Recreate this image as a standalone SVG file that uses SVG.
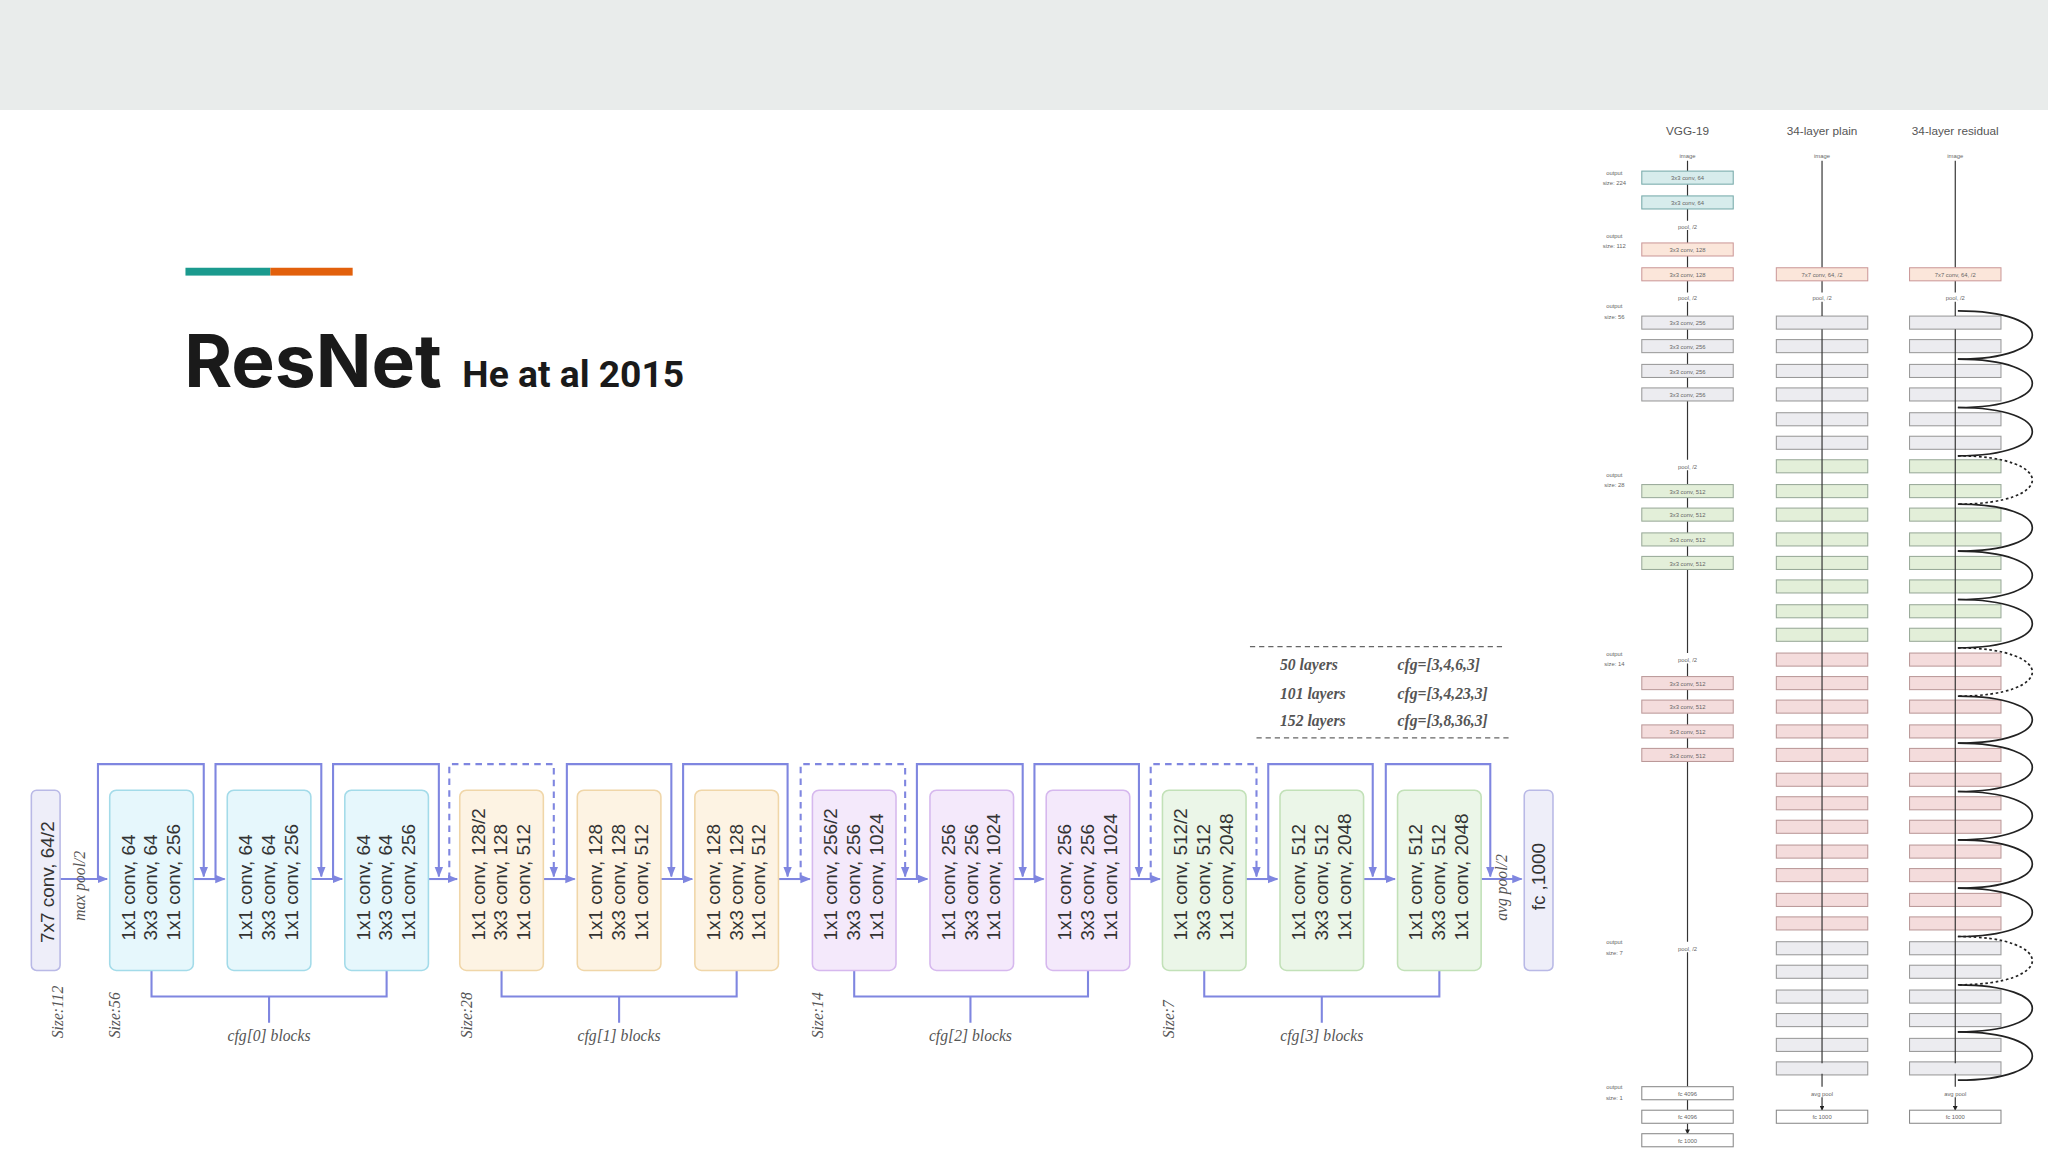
<svg xmlns="http://www.w3.org/2000/svg" width="2048" height="1152" viewBox="0 0 2048 1152">
<defs>
<style>
.c{fill:none;stroke:#7f86e0;stroke-width:1.6}
.d{fill:none;stroke:#7f86e0;stroke-width:1.6;stroke-dasharray:5 4}
.bt{font-family:"Liberation Sans",Arial,sans-serif;font-size:14.5px;fill:#333}
.it{font-family:"Liberation Serif",serif;font-style:italic;font-size:12px;fill:#555}
.sm{font-family:"Liberation Sans",Arial,sans-serif;font-size:4.5px;fill:#666;text-anchor:middle}
.hd{font-family:"Liberation Sans",Arial,sans-serif;font-size:9px;fill:#555;text-anchor:middle}
.bl{fill:#e6f7fc;stroke:#a3dbe9;stroke-width:1.2}
.or{fill:#fdf3e3;stroke:#f0d6a8;stroke-width:1.2}
.pu{fill:#f4e9fb;stroke:#d6b8ee;stroke-width:1.2}
.gr{fill:#ebf6e8;stroke:#c2e1b8;stroke-width:1.2}
.gy{fill:#ececf0;stroke:#999;stroke-width:0.8}
.te{fill:#d7ecec;stroke:#7aa;stroke-width:0.8}
.on{fill:#fbe6da;stroke:#c99;stroke-width:0.8}
.ge{fill:#e3efd9;stroke:#9a9;stroke-width:0.8}
.pk{fill:#f4dcdc;stroke:#b99;stroke-width:0.8}
.wh{fill:#fff;stroke:#888;stroke-width:0.8}
.ar{stroke:#333;stroke-width:0.9;fill:none}
</style>
<marker id="a" viewBox="0 0 10 10" refX="9" refY="5" markerWidth="5" markerHeight="5" orient="auto"><path d="M0,1 L10,5 L0,9 z" fill="#7f86e0"/></marker>
<marker id="k" viewBox="0 0 10 10" refX="9" refY="5" markerWidth="4" markerHeight="4" orient="auto"><path d="M0,0 L10,5 L0,10 z" fill="#222"/></marker>
</defs>
<rect width="2048" height="1152" fill="#fff"/>
<rect width="2048" height="110" fill="#e9eceb"/>
<g transform="scale(1.306122)">
<g id="title">
<rect x="142" y="205" width="65" height="6" fill="#1b9a8e"/>
<rect x="207" y="205" width="63" height="6" fill="#e2600c"/>
<text x="141" y="296" font-family="Inter,'Liberation Sans',sans-serif" font-weight="700" font-size="56" fill="#1a1a1a">ResNet</text>
<text x="354" y="296" font-family="Roboto,'Liberation Sans',sans-serif" font-weight="700" font-size="28.5" fill="#1a1a1a">He at al 2015</text>
</g>
<g id="connectors">
<path class="c" d="M46,673 H82" marker-end="url(#a)"/>
<path class="c" d="M148,673 H172" marker-end="url(#a)"/>
<path class="c" d="M238,673 H262" marker-end="url(#a)"/>
<path class="c" d="M328,673 H350" marker-end="url(#a)"/>
<path class="c" d="M416,673 H440" marker-end="url(#a)"/>
<path class="c" d="M506,673 H530" marker-end="url(#a)"/>
<path class="c" d="M596,673 H620" marker-end="url(#a)"/>
<path class="c" d="M686,673 H710" marker-end="url(#a)"/>
<path class="c" d="M776,673 H799" marker-end="url(#a)"/>
<path class="c" d="M865,673 H888" marker-end="url(#a)"/>
<path class="c" d="M954,673 H978" marker-end="url(#a)"/>
<path class="c" d="M1044,673 H1068" marker-end="url(#a)"/>
<path class="c" d="M1134,673 H1165" marker-end="url(#a)"/>
<path class="c" d="M75,673 V585 H156 V671" marker-end="url(#a)"/>
<path class="c" d="M165,673 V585 H246 V671" marker-end="url(#a)"/>
<path class="c" d="M255,673 V585 H336 V671" marker-end="url(#a)"/>
<path class="d" d="M344,673 V585 H424 V671" marker-end="url(#a)"/>
<path class="c" d="M434,673 V585 H514 V671" marker-end="url(#a)"/>
<path class="c" d="M523,673 V585 H603 V671" marker-end="url(#a)"/>
<path class="d" d="M613,673 V585 H693 V671" marker-end="url(#a)"/>
<path class="c" d="M702,673 V585 H783 V671" marker-end="url(#a)"/>
<path class="c" d="M792,673 V585 H872 V671" marker-end="url(#a)"/>
<path class="d" d="M881,673 V585 H962 V671" marker-end="url(#a)"/>
<path class="c" d="M971,673 V585 H1051 V671" marker-end="url(#a)"/>
<path class="c" d="M1061,673 V585 H1141 V671" marker-end="url(#a)"/>
<path class="c" d="M116,743 V763 H296 V743 M206,763 V783"/>
<path class="c" d="M384,743 V763 H564 V743 M474,763 V783"/>
<path class="c" d="M654,743 V763 H833 V743 M743,763 V783"/>
<path class="c" d="M922,743 V763 H1102 V743 M1012,763 V783"/>
</g>
<g id="stem"><rect x="24" y="605" width="22" height="138" rx="4" fill="#eeeef9" stroke="#b9b9e6" stroke-width="1.2"/>
<text class="bt" transform="translate(41,722) rotate(-90)">7x7 conv, 64/2</text></g>
<g id="fc"><rect x="1167" y="605" width="22" height="138" rx="4" fill="#eeeef9" stroke="#b9b9e6" stroke-width="1.2"/>
<text class="bt" transform="translate(1183,697) rotate(-90)">fc ,1000</text></g>
<g id="b1"><rect class="bl" x="84" y="605" width="64" height="138" rx="5"/><text class="bt" transform="translate(103,720) rotate(-90)"><tspan>1x1 conv, 64</tspan><tspan x="0" dy="17.5">3x3 conv, 64</tspan><tspan x="0" dy="17.5">1x1 conv, 256</tspan></text></g>
<g id="b2"><rect class="bl" x="174" y="605" width="64" height="138" rx="5"/><text class="bt" transform="translate(193,720) rotate(-90)"><tspan>1x1 conv, 64</tspan><tspan x="0" dy="17.5">3x3 conv, 64</tspan><tspan x="0" dy="17.5">1x1 conv, 256</tspan></text></g>
<g id="b3"><rect class="bl" x="264" y="605" width="64" height="138" rx="5"/><text class="bt" transform="translate(283,720) rotate(-90)"><tspan>1x1 conv, 64</tspan><tspan x="0" dy="17.5">3x3 conv, 64</tspan><tspan x="0" dy="17.5">1x1 conv, 256</tspan></text></g>
<g id="b4"><rect class="or" x="352" y="605" width="64" height="138" rx="5"/><text class="bt" transform="translate(371,720) rotate(-90)"><tspan>1x1 conv, 128/2</tspan><tspan x="0" dy="17.5">3x3 conv, 128</tspan><tspan x="0" dy="17.5">1x1 conv, 512</tspan></text></g>
<g id="b5"><rect class="or" x="442" y="605" width="64" height="138" rx="5"/><text class="bt" transform="translate(461,720) rotate(-90)"><tspan>1x1 conv, 128</tspan><tspan x="0" dy="17.5">3x3 conv, 128</tspan><tspan x="0" dy="17.5">1x1 conv, 512</tspan></text></g>
<g id="b6"><rect class="or" x="532" y="605" width="64" height="138" rx="5"/><text class="bt" transform="translate(551,720) rotate(-90)"><tspan>1x1 conv, 128</tspan><tspan x="0" dy="17.5">3x3 conv, 128</tspan><tspan x="0" dy="17.5">1x1 conv, 512</tspan></text></g>
<g id="b7"><rect class="pu" x="622" y="605" width="64" height="138" rx="5"/><text class="bt" transform="translate(641,720) rotate(-90)"><tspan>1x1 conv, 256/2</tspan><tspan x="0" dy="17.5">3x3 conv, 256</tspan><tspan x="0" dy="17.5">1x1 conv, 1024</tspan></text></g>
<g id="b8"><rect class="pu" x="712" y="605" width="64" height="138" rx="5"/><text class="bt" transform="translate(731,720) rotate(-90)"><tspan>1x1 conv, 256</tspan><tspan x="0" dy="17.5">3x3 conv, 256</tspan><tspan x="0" dy="17.5">1x1 conv, 1024</tspan></text></g>
<g id="b9"><rect class="pu" x="801" y="605" width="64" height="138" rx="5"/><text class="bt" transform="translate(820,720) rotate(-90)"><tspan>1x1 conv, 256</tspan><tspan x="0" dy="17.5">3x3 conv, 256</tspan><tspan x="0" dy="17.5">1x1 conv, 1024</tspan></text></g>
<g id="b10"><rect class="gr" x="890" y="605" width="64" height="138" rx="5"/><text class="bt" transform="translate(909,720) rotate(-90)"><tspan>1x1 conv, 512/2</tspan><tspan x="0" dy="17.5">3x3 conv, 512</tspan><tspan x="0" dy="17.5">1x1 conv, 2048</tspan></text></g>
<g id="b11"><rect class="gr" x="980" y="605" width="64" height="138" rx="5"/><text class="bt" transform="translate(999,720) rotate(-90)"><tspan>1x1 conv, 512</tspan><tspan x="0" dy="17.5">3x3 conv, 512</tspan><tspan x="0" dy="17.5">1x1 conv, 2048</tspan></text></g>
<g id="b12"><rect class="gr" x="1070" y="605" width="64" height="138" rx="5"/><text class="bt" transform="translate(1089,720) rotate(-90)"><tspan>1x1 conv, 512</tspan><tspan x="0" dy="17.5">3x3 conv, 512</tspan><tspan x="0" dy="17.5">1x1 conv, 2048</tspan></text></g>
<g id="labels">
<text class="it" transform="translate(65,705) rotate(-90)">max pool/2</text>
<text class="it" transform="translate(1154,705) rotate(-90)">avg pool/2</text>
<text class="it" transform="translate(48,795) rotate(-90)">Size:112</text>
<text class="it" transform="translate(92,795) rotate(-90)">Size:56</text>
<text class="it" transform="translate(361,795) rotate(-90)">Size:28</text>
<text class="it" transform="translate(630,795) rotate(-90)">Size:14</text>
<text class="it" transform="translate(899,795) rotate(-90)">Size:7</text>
<text class="it" x="206" y="797" text-anchor="middle">cfg[0] blocks</text>
<text class="it" x="474" y="797" text-anchor="middle">cfg[1] blocks</text>
<text class="it" x="743" y="797" text-anchor="middle">cfg[2] blocks</text>
<text class="it" x="1012" y="797" text-anchor="middle">cfg[3] blocks</text>
</g>
<g id="table" font-family="'Liberation Serif',serif" font-style="italic" font-weight="700" font-size="12" fill="#555">
<path d="M957,495 H1150 M962,565 H1155" stroke="#666" stroke-width="1" stroke-dasharray="4 3"/>
<text x="980" y="513">50 layers</text><text x="1070" y="513">cfg=[3,4,6,3]</text>
<text x="980" y="535">101 layers</text><text x="1070" y="535">cfg=[3,4,23,3]</text>
<text x="980" y="556">152 layers</text><text x="1070" y="556">cfg=[3,8,36,3]</text>
</g>
<g id="stacks">
<rect class="gy" x="1360" y="242" width="70" height="10"/><rect class="gy" x="1462" y="242" width="70" height="10"/>
<rect class="gy" x="1360" y="260" width="70" height="10"/><rect class="gy" x="1462" y="260" width="70" height="10"/>
<rect class="gy" x="1360" y="279" width="70" height="10"/><rect class="gy" x="1462" y="279" width="70" height="10"/>
<rect class="gy" x="1360" y="297" width="70" height="10"/><rect class="gy" x="1462" y="297" width="70" height="10"/>
<rect class="gy" x="1360" y="316" width="70" height="10"/><rect class="gy" x="1462" y="316" width="70" height="10"/>
<rect class="gy" x="1360" y="334" width="70" height="10"/><rect class="gy" x="1462" y="334" width="70" height="10"/>
<rect class="ge" x="1360" y="352" width="70" height="10"/><rect class="ge" x="1462" y="352" width="70" height="10"/>
<rect class="ge" x="1360" y="371" width="70" height="10"/><rect class="ge" x="1462" y="371" width="70" height="10"/>
<rect class="ge" x="1360" y="389" width="70" height="10"/><rect class="ge" x="1462" y="389" width="70" height="10"/>
<rect class="ge" x="1360" y="408" width="70" height="10"/><rect class="ge" x="1462" y="408" width="70" height="10"/>
<rect class="ge" x="1360" y="426" width="70" height="10"/><rect class="ge" x="1462" y="426" width="70" height="10"/>
<rect class="ge" x="1360" y="444" width="70" height="10"/><rect class="ge" x="1462" y="444" width="70" height="10"/>
<rect class="ge" x="1360" y="463" width="70" height="10"/><rect class="ge" x="1462" y="463" width="70" height="10"/>
<rect class="ge" x="1360" y="481" width="70" height="10"/><rect class="ge" x="1462" y="481" width="70" height="10"/>
<rect class="pk" x="1360" y="500" width="70" height="10"/><rect class="pk" x="1462" y="500" width="70" height="10"/>
<rect class="pk" x="1360" y="518" width="70" height="10"/><rect class="pk" x="1462" y="518" width="70" height="10"/>
<rect class="pk" x="1360" y="536" width="70" height="10"/><rect class="pk" x="1462" y="536" width="70" height="10"/>
<rect class="pk" x="1360" y="555" width="70" height="10"/><rect class="pk" x="1462" y="555" width="70" height="10"/>
<rect class="pk" x="1360" y="573" width="70" height="10"/><rect class="pk" x="1462" y="573" width="70" height="10"/>
<rect class="pk" x="1360" y="592" width="70" height="10"/><rect class="pk" x="1462" y="592" width="70" height="10"/>
<rect class="pk" x="1360" y="610" width="70" height="10"/><rect class="pk" x="1462" y="610" width="70" height="10"/>
<rect class="pk" x="1360" y="628" width="70" height="10"/><rect class="pk" x="1462" y="628" width="70" height="10"/>
<rect class="pk" x="1360" y="647" width="70" height="10"/><rect class="pk" x="1462" y="647" width="70" height="10"/>
<rect class="pk" x="1360" y="665" width="70" height="10"/><rect class="pk" x="1462" y="665" width="70" height="10"/>
<rect class="pk" x="1360" y="684" width="70" height="10"/><rect class="pk" x="1462" y="684" width="70" height="10"/>
<rect class="pk" x="1360" y="702" width="70" height="10"/><rect class="pk" x="1462" y="702" width="70" height="10"/>
<rect class="gy" x="1360" y="721" width="70" height="10"/><rect class="gy" x="1462" y="721" width="70" height="10"/>
<rect class="gy" x="1360" y="739" width="70" height="10"/><rect class="gy" x="1462" y="739" width="70" height="10"/>
<rect class="gy" x="1360" y="758" width="70" height="10"/><rect class="gy" x="1462" y="758" width="70" height="10"/>
<rect class="gy" x="1360" y="776" width="70" height="10"/><rect class="gy" x="1462" y="776" width="70" height="10"/>
<rect class="gy" x="1360" y="795" width="70" height="10"/><rect class="gy" x="1462" y="795" width="70" height="10"/>
<rect class="gy" x="1360" y="813" width="70" height="10"/><rect class="gy" x="1462" y="813" width="70" height="10"/>
</g>
<g id="vgg">
<text class="hd" x="1292" y="103">VGG-19</text>
<text class="sm" x="1292" y="121">image</text>
<path class="ar" d="M1292,123 V131 M1292,141 V150 M1292,160 V169 M1292,176 V186 M1292,196 V205 M1292,215 V224 M1292,231 V242 M1292,252 V260 M1292,270 V279 M1292,289 V297 M1292,307 V352 M1292,360 V371 M1292,381 V389 M1292,399 V408 M1292,418 V426 M1292,436 V500 M1292,508 V518 M1292,528 V536 M1292,546 V555 M1292,565 V573 M1292,583 V721 M1292,729 V832 M1292,842 V850 M1292,860 V868" marker-end="url(#k)"/>
<rect class="te" x="1257" y="131" width="70" height="10"/><text class="sm" x="1292" y="138">3x3 conv, 64</text>
<rect class="te" x="1257" y="150" width="70" height="10"/><text class="sm" x="1292" y="157">3x3 conv, 64</text>
<text class="sm" x="1292" y="175">pool, /2</text>
<rect class="on" x="1257" y="186" width="70" height="10"/><text class="sm" x="1292" y="193">3x3 conv, 128</text>
<rect class="on" x="1257" y="205" width="70" height="10"/><text class="sm" x="1292" y="212">3x3 conv, 128</text>
<text class="sm" x="1292" y="230">pool, /2</text>
<rect class="gy" x="1257" y="242" width="70" height="10"/><text class="sm" x="1292" y="249">3x3 conv, 256</text>
<rect class="gy" x="1257" y="260" width="70" height="10"/><text class="sm" x="1292" y="267">3x3 conv, 256</text>
<rect class="gy" x="1257" y="279" width="70" height="10"/><text class="sm" x="1292" y="286">3x3 conv, 256</text>
<rect class="gy" x="1257" y="297" width="70" height="10"/><text class="sm" x="1292" y="304">3x3 conv, 256</text>
<text class="sm" x="1292" y="359">pool, /2</text>
<rect class="ge" x="1257" y="371" width="70" height="10"/><text class="sm" x="1292" y="378">3x3 conv, 512</text>
<rect class="ge" x="1257" y="389" width="70" height="10"/><text class="sm" x="1292" y="396">3x3 conv, 512</text>
<rect class="ge" x="1257" y="408" width="70" height="10"/><text class="sm" x="1292" y="415">3x3 conv, 512</text>
<rect class="ge" x="1257" y="426" width="70" height="10"/><text class="sm" x="1292" y="433">3x3 conv, 512</text>
<text class="sm" x="1292" y="507">pool, /2</text>
<rect class="pk" x="1257" y="518" width="70" height="10"/><text class="sm" x="1292" y="525">3x3 conv, 512</text>
<rect class="pk" x="1257" y="536" width="70" height="10"/><text class="sm" x="1292" y="543">3x3 conv, 512</text>
<rect class="pk" x="1257" y="555" width="70" height="10"/><text class="sm" x="1292" y="562">3x3 conv, 512</text>
<rect class="pk" x="1257" y="573" width="70" height="10"/><text class="sm" x="1292" y="580">3x3 conv, 512</text>
<text class="sm" x="1292" y="728">pool, /2</text>
<rect class="wh" x="1257" y="832" width="70" height="10"/><text class="sm" x="1292" y="839">fc 4096</text>
<rect class="wh" x="1257" y="850" width="70" height="10"/><text class="sm" x="1292" y="857">fc 4096</text>
<rect class="wh" x="1257" y="868" width="70" height="10"/><text class="sm" x="1292" y="875">fc 1000</text>
<text class="sm" x="1236" y="134">output</text><text class="sm" x="1236" y="142">size: 224</text>
<text class="sm" x="1236" y="182">output</text><text class="sm" x="1236" y="190">size: 112</text>
<text class="sm" x="1236" y="236">output</text><text class="sm" x="1236" y="244">size: 56</text>
<text class="sm" x="1236" y="365">output</text><text class="sm" x="1236" y="373">size: 28</text>
<text class="sm" x="1236" y="502">output</text><text class="sm" x="1236" y="510">size: 14</text>
<text class="sm" x="1236" y="723">output</text><text class="sm" x="1236" y="731">size: 7</text>
<text class="sm" x="1236" y="834">output</text><text class="sm" x="1236" y="842">size: 1</text>
</g>
<g id="plain">
<text class="hd" x="1395" y="103">34-layer plain</text>
<text class="sm" x="1395" y="121">image</text>
<path class="ar" d="M1395,123 V205 M1395,215 V224 M1395,231 V242 M1395,252 V814 M1395,822 V832 M1395,840 V850" marker-end="url(#k)"/>
<rect class="on" x="1360" y="205" width="70" height="10"/><text class="sm" x="1395" y="212">7x7 conv, 64, /2</text>
<text class="sm" x="1395" y="230">pool, /2</text>
<text class="sm" x="1395" y="839">avg pool</text>
<rect class="wh" x="1360" y="850" width="70" height="10"/><text class="sm" x="1395" y="857">fc 1000</text>
</g>
<g id="residual">
<text class="hd" x="1497" y="103">34-layer residual</text>
<text class="sm" x="1497" y="121">image</text>
<path class="ar" d="M1497,123 V205 M1497,215 V224 M1497,231 V242 M1497,252 V814 M1497,822 V832 M1497,840 V850" marker-end="url(#k)"/>
<rect class="on" x="1462" y="205" width="70" height="10"/><text class="sm" x="1497" y="212">7x7 conv, 64, /2</text>
<text class="sm" x="1497" y="230">pool, /2</text>
<text class="sm" x="1497" y="839">avg pool</text>
<rect class="wh" x="1462" y="850" width="70" height="10"/><text class="sm" x="1497" y="857">fc 1000</text>
<g fill="none" stroke="#222" stroke-width="1.3">
<path d="M1499,238 C1575,238 1575,275 1499,275"/>
<path d="M1499,275 C1575,275 1575,312 1499,312"/>
<path d="M1499,312 C1575,312 1575,349 1499,349"/>
<path d="M1499,349 C1575,349 1575,386 1499,386" stroke-dasharray="2 2"/>
<path d="M1499,386 C1575,386 1575,422 1499,422"/>
<path d="M1499,422 C1575,422 1575,459 1499,459"/>
<path d="M1499,459 C1575,459 1575,496 1499,496"/>
<path d="M1499,496 C1575,496 1575,533 1499,533" stroke-dasharray="2 2"/>
<path d="M1499,533 C1575,533 1575,569 1499,569"/>
<path d="M1499,569 C1575,569 1575,606 1499,606"/>
<path d="M1499,606 C1575,606 1575,643 1499,643"/>
<path d="M1499,643 C1575,643 1575,680 1499,680"/>
<path d="M1499,680 C1575,680 1575,717 1499,717"/>
<path d="M1499,717 C1575,717 1575,754 1499,754" stroke-dasharray="2 2"/>
<path d="M1499,754 C1575,754 1575,790 1499,790"/>
<path d="M1499,790 C1575,790 1575,827 1499,827"/>
</g>
</g>
</g>
</svg>
